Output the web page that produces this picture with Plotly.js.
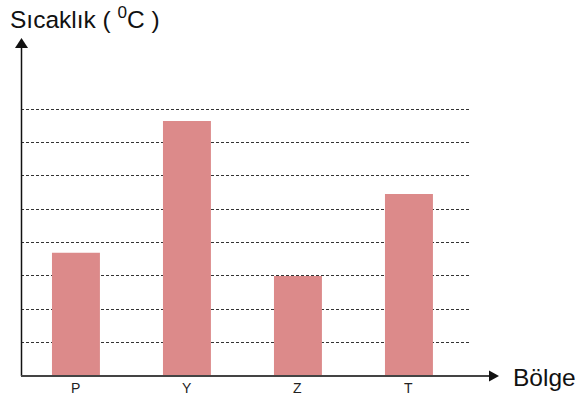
<!DOCTYPE html>
<html>
<head>
<meta charset="utf-8">
<script src="https://cdn.plot.ly/plotly-3.0.1.min.js"></script>
<style>html,body{margin:0;padding:0;background:#fff;}#chart{width:582px;height:403px;}</style>
</head>
<body>
<div id="chart"></div>
<script>
var categories = ["P", "Y", "Z", "T"];
var temperatures = [3.69, 7.64, 3.0, 5.45];
var gridValues = [1, 2, 3, 4, 5, 6, 7, 8];
var yTitle = "Sıcaklık ( <sup>0</sup>C )";
var xTitle = "Bölge";

var trace = {
  type: "bar",
  x: categories,
  y: temperatures,
  marker: {color: "#DC8A8A", line: {width: 0}},
  hoverinfo: "none"
};

var W = 449, H = 269;
function px(x){ return x / W; }
function py(y){ return y / H; }

var annotations = [
  {text: yTitle, xref: "paper", yref: "paper", x: px(-13), y: py(358), xanchor: "left", yanchor: "middle", showarrow: false, font: {size: 24.5, color: "#111"}},
  {text: xTitle, xref: "paper", yref: "paper", x: px(490), y: py(-1), xanchor: "left", yanchor: "middle", showarrow: false, font: {size: 24.5, color: "#111"}}
];
categories.forEach(function(c){
  annotations.push({text: c, xref: "x", yref: "paper", x: c, y: py(-12), xanchor: "center", yanchor: "middle", showarrow: false, font: {size: 14, color: "#222"}});
});

var layout = {
  width: 582, height: 403,
  margin: {l: 21, r: 112, t: 107, b: 27, pad: 0},
  paper_bgcolor: "#fff", plot_bgcolor: "#fff",
  showlegend: false,
  bargap: 0.568,
  font: {family: "Liberation Sans, Arial, sans-serif", color: "#111"},
  xaxis: {
    type: "category",
    range: [-0.495, 3.55],
    showgrid: false, zeroline: false, showline: false,
    ticks: "", showticklabels: false,
    fixedrange: true
  },
  yaxis: {
    range: [0, 8.06],
    tickvals: gridValues,
    showticklabels: false,
    showgrid: true, gridcolor: "#333", gridwidth: 1, griddash: "3px,2px",
    zeroline: false, showline: false, ticks: "",
    fixedrange: true
  },
  shapes: [
    {type: "line", xref: "paper", yref: "paper", x0: px(0.5), x1: px(0.5), y0: 0, y1: py(328), line: {color: "#111", width: 1.5}, layer: "above"},
    {type: "path", xref: "paper", yref: "paper", path: "M " + px(-6) + " " + py(328) + " L " + px(7) + " " + py(328) + " L " + px(0.5) + " " + py(338) + " Z", fillcolor: "#111", line: {width: 0}, layer: "above"},
    {type: "line", xref: "paper", yref: "paper", x0: 0, x1: px(468), y0: 0, y1: 0, line: {color: "#444", width: 2}, layer: "above"},
    {type: "path", xref: "paper", yref: "paper", path: "M " + px(468) + " " + py(5.5) + " L " + px(478) + " " + py(0) + " L " + px(468) + " " + py(-5.5) + " Z", fillcolor: "#111", line: {width: 0}, layer: "above"}
  ],
  annotations: annotations
};

Plotly.newPlot("chart", [trace], layout, {displayModeBar: false, staticPlot: true});
</script>
</body>
</html>
